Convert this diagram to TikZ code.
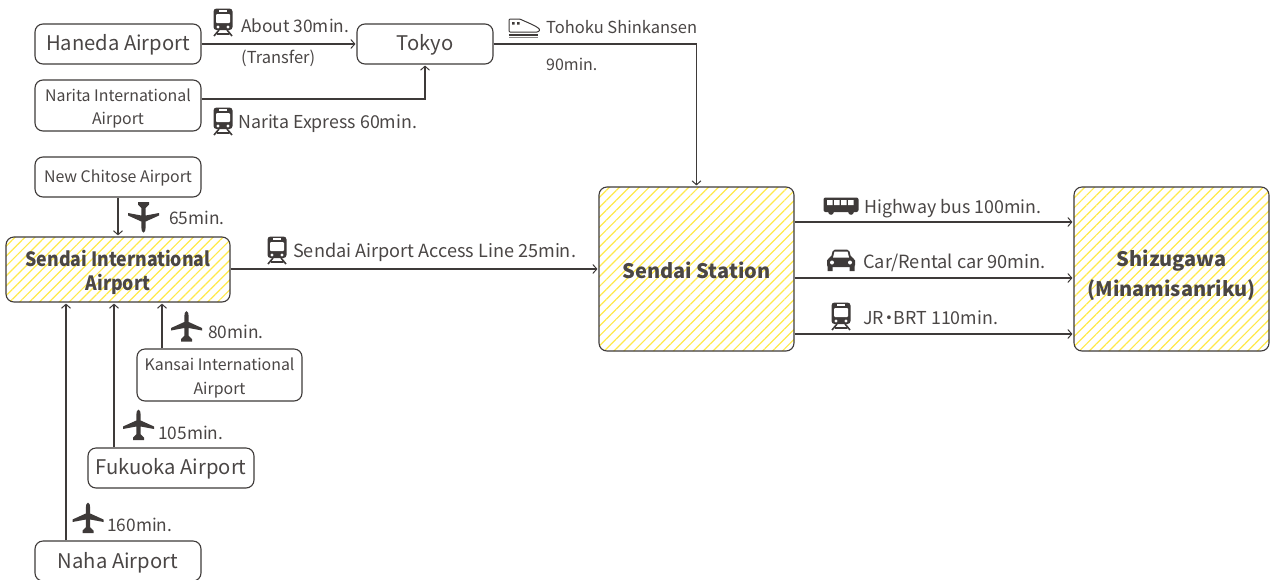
\documentclass[tikz,border=0pt]{standalone}
\usepackage{fontspec}
\setmainfont{Noto Sans CJK JP}
\usetikzlibrary{arrows.meta,patterns.meta}
\definecolor{LineClr}{HTML}{3E3A39}
\definecolor{TextClr}{HTML}{4A4645}
\definecolor{HatchClr}{HTML}{FFE94A}
\tikzset{
  drop/.style={execute at begin node={\rule{0pt}{#1}}},
  airport/.style={draw=LineClr,line width=1.1pt,rounded corners=8pt,inner sep=0pt,align=center,text=TextClr},
  bigport/.style={airport,font=\fontsize{20.2}{24}\selectfont},
  smallport/.style={airport,font=\fontsize{15.9}{23.5}\selectfont},
  hub/.style={airport,pattern={Lines[angle=45,distance=7pt,line width=1.2pt]},pattern color=HatchClr,font=\fontsize{20}{24}\selectfont\bfseries},
  info/.style={anchor=base west,inner sep=0pt,text=TextClr,font=\fontsize{17.8}{20}\selectfont},
  infosmall/.style={info,font=\fontsize{16.5}{18}\selectfont},
  infotime/.style={info,font=\fontsize{17.3}{18}\selectfont},
  route/.style={draw=LineClr,line width=1.1pt,-{Straight Barb[length=4pt,width=9pt,line width=1pt]},shorten >=1pt},
  train/.pic={
    \fill[LineClr,rounded corners=3pt] (-9.5,-13.5) rectangle (9.5,8);
    \fill[white,rounded corners=1pt] (-7,-8) rectangle (7,1);
    \fill[white] (-4,-12) rectangle (4,-10);
    \fill[white] (-5,5) circle (1.7) (5,5) circle (1.7);
    \draw[LineClr,line width=1.6pt] (-4,8) -- (-9,14) (4,8) -- (9,14) (-6,12) -- (6,12);
  },
  plane/.pic={
    \fill[LineClr] (0,-15.5) .. controls (1.4,-15.5) and (2.2,-13) .. (2.2,-10) -- (2.2,-4.5) -- (15.5,1.5) -- (15.5,4) -- (2.2,1.5) -- (2,9) -- (5.5,12.5) -- (5.5,15) -- (-5.5,15) -- (-5.5,12.5) -- (-2,9) -- (-2.2,1.5) -- (-15.5,4) -- (-15.5,1.5) -- (-2.2,-4.5) -- (-2.2,-10) .. controls (-2.2,-13) and (-1.4,-15.5) .. (0,-15.5) -- cycle;
  },
  bus/.pic={
    \fill[LineClr,rounded corners=2pt] (-17.5,-8.5) rectangle (17.5,6);
    \fill[white] (-14,-6) rectangle (-8.5,-1) (-7,-6) rectangle (-1.5,-1) (0,-6) rectangle (5.5,-1) (7,-6) rectangle (12.5,-1);
    \fill[LineClr] (-10,6) circle (2.8) (10,6) circle (2.8);
  },
  car/.pic={
    \fill[LineClr,rounded corners=2pt] (-14,-1.5) -- (-10,-2.5) -- (-8,-10.5) -- (8,-10.5) -- (10,-2.5) -- (14,-1.5) -- (14,7) -- (-14,7) -- cycle;
    \fill[LineClr] (-13.5,6) rectangle (-8.5,11) (8.5,6) rectangle (13.5,11);
    \fill[white] (-6.5,-8.5) -- (6.5,-8.5) -- (8,-2.5) -- (-8,-2.5) -- cycle;
    \fill[white] (-9,2.5) circle (2) (9,2.5) circle (2);
  },
  bullet/.pic={
    \draw[LineClr,line width=1pt,rounded corners=1pt] (-15,4) -- (-15,-9) -- (-4,-9) .. controls (2,-6) and (13,-2) .. (16,2) -- (14,4) -- cycle;
    \fill[LineClr] (-12,-6) rectangle (-9.5,-3.5) (-7,-6) rectangle (-4.5,-3.5);
    \fill[LineClr] (-15.5,5.5) rectangle (14,7.5);
    \fill[LineClr!60] (-15.5,8.5) rectangle (14,10);
  }
}

\begin{document}
\begin{tikzpicture}[x=1pt,y=-1pt]
\useasboundingbox (0,0) rectangle (1271,579);
\clip (0,0) rectangle (1271,579);

\node[bigport,drop=17pt,minimum width=166pt,minimum height=40pt] (haneda) at (118,44) {Haneda Airport};
\node[bigport,drop=17pt,minimum width=136pt,minimum height=40pt] (tokyo) at (425,44) {Tokyo};
\node[smallport,drop=42pt,minimum width=166pt,minimum height=51pt] (narita) at (118,105.5) {Narita International\\Airport};
\node[smallport,drop=15pt,minimum width=166pt,minimum height=40pt] (chitose) at (118,177) {New Chitose Airport};
\node[hub,minimum width=224pt,minimum height=65pt,font=\fontsize{19.7}{24}\selectfont\bfseries\addfontfeature{FakeStretch=0.9},drop=47pt] (sendai) at (118,269.5) {Sendai International\\Airport};
\node[smallport,drop=42pt,minimum width=165pt,minimum height=52pt] (kansai) at (219.5,375) {Kansai International\\Airport};
\node[bigport,drop=17pt,minimum width=166pt,minimum height=40pt] (fukuoka) at (171,468) {Fukuoka Airport};
\node[bigport,drop=19pt,minimum width=166pt,minimum height=40pt] (naha) at (118,561) {Naha Airport};
\node[hub,minimum width=195pt,minimum height=164pt,drop=19pt] (station) at (696.5,269) {Sendai Station};
\node[hub,minimum width=195pt,minimum height=164pt,font=\fontsize{20}{30}\selectfont\bfseries,drop=59pt] (shizugawa) at (1171.5,269) {Shizugawa\\(Minamisanriku)};

\draw[route] (haneda) -- (tokyo);
\draw[route] ([yshift=6.5pt]narita.east) -| (tokyo.south);
\draw[route] (tokyo.east) -| (station.north);
\draw[route] (chitose.south) -- (sendai.north);
\draw[route] ([yshift=.5pt]sendai.east) -- (station.west);
\draw[route] (kansai.north -| 162,0) -- (sendai.south -| 162,0);
\draw[route] (fukuoka.north -| 114,0) -- (sendai.south -| 114,0);
\draw[route] (naha.north -| 66,0) -- (sendai.south -| 66,0);
\draw[route] ([yshift=47pt]station.east) -- ([yshift=47pt]shizugawa.west);
\draw[route] ([yshift=-9pt]station.east) -- ([yshift=-9pt]shizugawa.west);
\draw[route] ([yshift=-65pt]station.east) -- ([yshift=-65pt]shizugawa.west);

% icons
\pic at (223,22) {train};
\pic at (223,121) {train};
\pic at (277,250) {train};
\pic at (841,316) {train};
\pic[rotate=180] at (143.5,217) {plane};
\pic at (186.5,326.5) {plane};
\pic at (138.5,425) {plane};
\pic at (88,518) {plane};
\pic at (524,28) {bullet};
\pic at (841,206) {bus};
\pic at (841,260) {car};

% times
\node[infotime] (t30) at (241,32) {About 30min.};
\node[infosmall] (ttransfer) at (241,63) {(Transfer)};
\node[info] (t60) at (238,128) {Narita Express 60min.};
\node[infosmall] (tshinkansen) at (546,33) {Tohoku Shinkansen};
\node[infosmall,font=\fontsize{16}{18}\selectfont] (t90) at (546,70) {90min.};
\node[infotime] (t65) at (169,224) {65min.};
\node[infotime] (t80) at (208,338) {80min.};
\node[infotime] (t105) at (158,439) {105min.};
\node[infotime] (t160) at (107,531) {160min.};
\node[info,font=\fontsize{18.1}{20}\selectfont] (taccess) at (293,257) {Sendai Airport Access Line 25min.};
\node[info] (tbus) at (864,213) {Highway bus 100min.};
\node[info,font=\fontsize{18.2}{20}\selectfont] (tcar) at (863,268) {Car/Rental car 90min.};
\node[info] (tjr) at (863,324) {JR\kern-4pt ・\kern-4pt BRT 110min.};

\end{tikzpicture}
\end{document}
